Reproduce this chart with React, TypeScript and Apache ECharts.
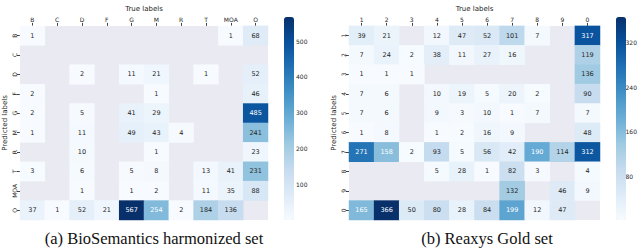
import React, { useEffect, useRef } from 'react';
import * as echarts from 'echarts';

const bioLabels = ['B', 'C', 'D', 'F', 'G', 'M', 'R', 'T', 'MOA', 'O'];
const bioCounts: (number | null)[][] = [
  [1, null, null, null, null, null, null, null, 1, 68],
  [null, null, null, null, null, null, null, null, null, null],
  [null, null, 2, null, 11, 21, null, 1, null, 52],
  [2, null, null, null, null, 1, null, null, null, 46],
  [2, null, 5, null, 41, 29, null, null, null, 485],
  [1, null, 11, null, 49, 43, 4, null, null, 241],
  [null, null, 10, null, null, 1, null, null, null, 23],
  [3, null, 6, null, 5, 8, null, 13, 41, 231],
  [null, null, 1, null, 1, 2, null, 11, 35, 88],
  [37, 1, 52, 21, 567, 254, 2, 184, 136, null],
];
const bioColorTicks = [100, 200, 300, 400, 500];
const bioRange = [1, 567];

const reaxysLabels = ['1', '2', '3', '4', '5', '6', '7', '8', '9', '0'];
const reaxysCounts: (number | null)[][] = [
  [39, 21, null, 12, 47, 52, 101, 7, null, 317],
  [7, 24, 2, 38, 11, 27, 16, null, null, 119],
  [1, 1, 1, null, null, null, null, null, null, 136],
  [7, 6, null, 10, 19, 5, 20, 2, null, 90],
  [7, 6, null, 9, 3, 10, 1, 7, null, 7],
  [1, 8, null, 1, 2, 16, 9, null, null, 48],
  [271, 158, 2, 93, 5, 56, 42, 190, 114, 312],
  [null, null, null, 5, 28, 1, 82, 3, null, 4],
  [null, null, null, null, null, null, 132, null, 46, 9],
  [165, 366, 50, 80, 28, 84, 199, 12, 47, null],
];
const reaxysColorTicks = [80, 160, 240, 320];
const reaxysRange = [1, 366];

const captions = ['(a) BioSemantics harmonized set', '(b) Reaxys Gold set'];
const axisTitles = { x: 'True labels', y: 'Predicted labels' };

const BLUES = ['#f7fbff', '#deebf7', '#c6dbef', '#9ecae1', '#6baed6', '#4292c6', '#2171b5', '#08519c', '#08306b'];
const TXT = '#262626';
const FONT = '"DejaVu Sans", sans-serif';

function toData(m: (number | null)[][], max: number) {
  const out: any[] = [];
  m.forEach((row, y) =>
    row.forEach((v, x) => {
      if (v === null) return;
      out.push({ value: [x, y, v], label: { color: v / max > 0.43 ? '#ffffff' : TXT } });
    })
  );
  return out;
}

export default function App() {
  const ref = useRef<HTMLDivElement>(null);
  useEffect(() => {
    const chart = echarts.init(ref.current!, null, { renderer: 'svg' });
    const W = 251, H = 205, T = 15;
    const lefts = [17, 349];
    const cbLefts = [284, 616];
    const cats = [bioLabels, reaxysLabels];
    const ranges = [bioRange, reaxysRange];
    const ticks = [bioColorTicks, reaxysColorTicks];
    const counts = [bioCounts, reaxysCounts];

    const grid: any[] = [];
    const xAxis: any[] = [];
    const yAxis: any[] = [];
    const series: any[] = [];
    const visualMap: any[] = [];

    [0, 1].forEach((i) => {
      grid.push({ left: lefts[i], top: T, width: W, height: H, show: true, backgroundColor: '#eaeaf2', borderWidth: 0 });
      xAxis.push({
        type: 'category', gridIndex: i, data: cats[i], position: 'top',
        name: axisTitles.x, nameLocation: 'middle', nameGap: 11,
        nameTextStyle: { fontSize: 7, color: TXT, fontFamily: FONT },
        axisLine: { show: false },
        axisTick: { show: true, length: 3, alignWithLabel: true, lineStyle: { color: '#444' } },
        axisLabel: { fontSize: 6, color: TXT, fontFamily: FONT, margin: 3, interval: 0 },
        splitLine: { show: false },
      });
      yAxis.push({
        type: 'category', gridIndex: i, data: cats[i], inverse: true,
        name: axisTitles.y, nameLocation: 'middle', nameGap: 12,
        nameTextStyle: { fontSize: 7, color: TXT, fontFamily: FONT },
        axisLine: { show: false },
        axisTick: { show: true, length: 3, alignWithLabel: true, lineStyle: { color: '#444' } },
        axisLabel: { fontSize: 6, color: TXT, fontFamily: FONT, margin: 3, rotate: 90, interval: 0 },
        splitLine: { show: false },
      });
      series.push({
        type: 'heatmap', xAxisIndex: i, yAxisIndex: i,
        data: toData(counts[i], ranges[i][1]),
        label: { show: true, fontSize: 6.5, fontFamily: FONT },
        itemStyle: { borderWidth: 0 },
        emphasis: { disabled: true },
      });
      visualMap.push({
        type: 'continuous', seriesIndex: i, min: ranges[i][0], max: ranges[i][1],
        left: cbLefts[i], top: 17, itemWidth: 10, itemHeight: 203, padding: 0,
        calculable: false, hoverLink: false, inRange: { color: BLUES },
        textStyle: { fontSize: 0 },
      });
    });

    [0, 1].forEach((i) => {
      grid.push({ left: cbLefts[i], top: 17, width: 10, height: 203, show: false });
      xAxis.push({ type: 'value', gridIndex: 2 + i, show: false });
      yAxis.push({
        type: 'value', gridIndex: 2 + i, position: 'right', min: ranges[i][0], max: ranges[i][1],
        axisLine: { show: false },
        axisTick: { show: true, length: 3, customValues: ticks[i], lineStyle: { color: '#444' } },
        axisLabel: { show: true, customValues: ticks[i], fontSize: 6, color: TXT, fontFamily: FONT, margin: 2 },
        splitLine: { show: false },
      });
    });

    chart.setOption({
      animation: false,
      backgroundColor: '#ffffff',
      grid, xAxis, yAxis, series, visualMap,
      graphic: [
        { type: 'text', x: 154, y: 238, style: { text: captions[0], font: '16.5px "Liberation Serif", serif', fill: '#111', align: 'center', verticalAlign: 'middle' } },
        { type: 'text', x: 487, y: 238, style: { text: captions[1], font: '16.5px "Liberation Serif", serif', fill: '#111', align: 'center', verticalAlign: 'middle' } },
      ],
    });
    return () => chart.dispose();
  }, []);
  return <div ref={ref} style={{ position: 'fixed', left: 0, top: 0, width: 640, height: 250 }} />;
}
